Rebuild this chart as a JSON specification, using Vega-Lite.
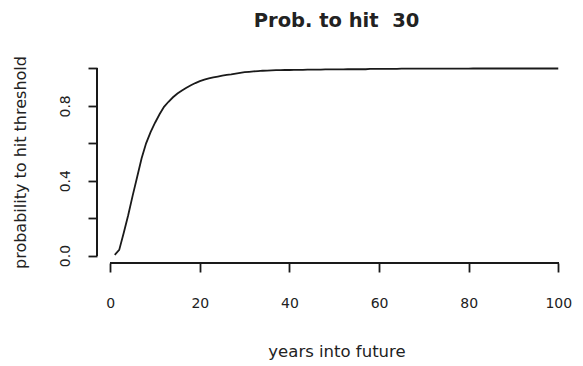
{
  "$schema": "https://vega.github.io/schema/vega-lite/v6.json",
  "autosize": "none",
  "width": 479,
  "height": 202,
  "padding": {"left": 97, "top": 61, "right": 7, "bottom": 103},
  "background": "white",
  "config": {"view": {"stroke": null}, "font": "DejaVu Sans"},
  "title": {"text": "Prob. to hit\u00a0 30", "font": "DejaVu Sans", "fontSize": 19.5, "fontWeight": "bold", "color": "#222", "offset": 24, "anchor": "middle"},
  "data": {"values": [
    {"t":1,"p":0.003},{"t":2,"p":0.03},{"t":3,"p":0.12},{"t":4,"p":0.215},{"t":5,"p":0.32},
    {"t":6,"p":0.42},{"t":7,"p":0.52},{"t":8,"p":0.60},{"t":9,"p":0.66},{"t":10,"p":0.71},
    {"t":11,"p":0.755},{"t":12,"p":0.795},{"t":13,"p":0.822},{"t":14,"p":0.846},{"t":15,"p":0.866},
    {"t":16,"p":0.882},{"t":17,"p":0.897},{"t":18,"p":0.91},{"t":19,"p":0.922},{"t":20,"p":0.932},
    {"t":21,"p":0.94},{"t":22,"p":0.947},{"t":23,"p":0.952},{"t":24,"p":0.957},{"t":25,"p":0.962},
    {"t":26,"p":0.966},{"t":27,"p":0.969},{"t":28,"p":0.973},{"t":29,"p":0.977},{"t":30,"p":0.98},
    {"t":31,"p":0.982},{"t":32,"p":0.984},{"t":33,"p":0.986},{"t":34,"p":0.988},{"t":35,"p":0.989},
    {"t":36,"p":0.99},{"t":37,"p":0.991},{"t":38,"p":0.991},{"t":39,"p":0.992},{"t":40,"p":0.992},
    {"t":41,"p":0.993},{"t":42,"p":0.993},{"t":43,"p":0.993},{"t":44,"p":0.994},{"t":45,"p":0.994},
    {"t":46,"p":0.994},{"t":47,"p":0.994},{"t":48,"p":0.995},{"t":49,"p":0.995},{"t":50,"p":0.995},
    {"t":51,"p":0.995},{"t":52,"p":0.995},{"t":53,"p":0.996},{"t":54,"p":0.996},{"t":55,"p":0.996},
    {"t":56,"p":0.996},{"t":57,"p":0.996},{"t":58,"p":0.998},{"t":59,"p":0.998},{"t":60,"p":0.998},
    {"t":61,"p":0.998},{"t":62,"p":0.998},{"t":63,"p":0.998},{"t":64,"p":0.998},{"t":65,"p":0.999},
    {"t":66,"p":0.999},{"t":67,"p":0.999},{"t":68,"p":0.999},{"t":69,"p":0.999},{"t":70,"p":0.999},
    {"t":71,"p":0.999},{"t":72,"p":0.999},{"t":73,"p":0.999},{"t":74,"p":0.999},{"t":75,"p":0.999},
    {"t":76,"p":0.999},{"t":77,"p":0.999},{"t":78,"p":0.999},{"t":79,"p":0.999},{"t":80,"p":0.999},
    {"t":81,"p":1.0},{"t":82,"p":1.0},{"t":83,"p":1.0},{"t":84,"p":1.0},{"t":85,"p":1.0},
    {"t":86,"p":1.0},{"t":87,"p":1.0},{"t":88,"p":1.0},{"t":89,"p":1.0},{"t":90,"p":1.0},
    {"t":91,"p":1.0},{"t":92,"p":1.0},{"t":93,"p":1.0},{"t":94,"p":1.0},{"t":95,"p":1.0},
    {"t":96,"p":1.0},{"t":97,"p":1.0},{"t":98,"p":1.0},{"t":99,"p":1.0},{"t":100,"p":1.0}
  ]},
  "layer": [
    {
      "mark": {"type": "line", "color": "#1a1a1a", "strokeWidth": 1.8},
      "encoding": {
        "x": {"field": "t", "type": "quantitative",
              "scale": {"domain": [-2.96, 103.96], "nice": false, "zero": false},
              "axis": {"title": "years into future", "values": [0, 20, 40, 60, 80, 100], "domain": false, "grid": false,
                       "tickSize": 9, "tickWidth": 1.8, "tickColor": "#1a1a1a",
                       "labelFont": "DejaVu Sans", "labelFontSize": 14, "labelColor": "#222", "labelPadding": 24,
                       "labelFlush": false,
                       "titleFont": "DejaVu Sans", "titleFontSize": 16.5, "titleFontWeight": "normal", "titleColor": "#222", "titlePadding": 33}},
        "y": {"field": "p", "type": "quantitative",
              "scale": {"domain": [-0.04, 1.04], "nice": false, "zero": false},
              "axis": {"title": "probability to hit threshold", "values": [0, 0.2, 0.4, 0.6, 0.8, 1.0], "domain": false, "grid": false,
                       "format": ".1f",
                       "labelExpr": "(datum.value == 0 || abs(datum.value - 0.4) < 0.001 || abs(datum.value - 0.8) < 0.001) ? datum.label : ''",
                       "tickSize": 9, "tickWidth": 1.8, "tickColor": "#1a1a1a",
                       "labelFont": "DejaVu Sans", "labelFontSize": 14, "labelColor": "#222", "labelPadding": 16,
                       "labelAngle": 270, "labelAlign": "center", "labelBaseline": "bottom", "labelFlush": false,
                       "titleFont": "DejaVu Sans", "titleFontSize": 16, "titleFontWeight": "normal", "titleColor": "#222", "titlePadding": 30}}
      }
    },
    {
      "mark": {"type": "rule", "color": "#1a1a1a", "strokeWidth": 1.8},
      "encoding": {"x": {"datum": -2.96}, "y": {"datum": 0}, "y2": {"datum": 1}}
    },
    {
      "mark": {"type": "rule", "color": "#1a1a1a", "strokeWidth": 1.8},
      "encoding": {"y": {"datum": -0.04}, "x": {"datum": 0}, "x2": {"datum": 100}}
    }
  ]
}
